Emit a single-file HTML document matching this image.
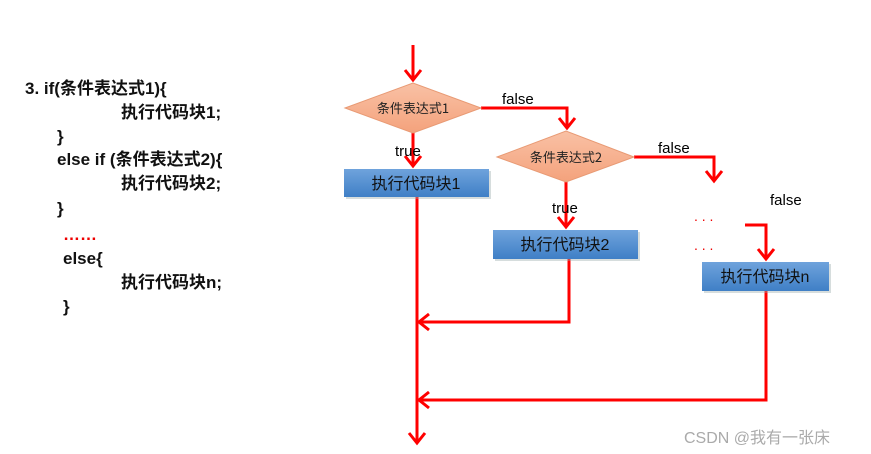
<!DOCTYPE html>
<html><head><meta charset="utf-8"><style>
body{margin:0;background:#fff;}
svg{display:block;}
.c{font-family:"Liberation Sans","Noto Sans CJK SC",sans-serif;font-weight:bold;font-size:17px;fill:#111;}
.l{font-family:"Liberation Sans","Noto Sans CJK SC",sans-serif;font-size:15px;fill:#000;}
.d{font-family:"Noto Sans CJK SC",sans-serif;font-size:13px;fill:#222;}
.b{font-family:"Liberation Sans","Noto Sans CJK SC",sans-serif;font-size:16px;fill:#111;}
</style></head><body>
<svg width="871" height="454" viewBox="0 0 871 454">
<defs>
<linearGradient id="bg" x1="0" y1="0" x2="0" y2="1"><stop offset="0" stop-color="#6fa3dc"/><stop offset="1" stop-color="#3f7fc6"/></linearGradient>
<linearGradient id="dg" x1="0" y1="0" x2="0" y2="1"><stop offset="0" stop-color="#f9c1a5"/><stop offset="1" stop-color="#f4a27c"/></linearGradient>
</defs>
<g>
<text class="c" x="25" y="94">3.  if(条件表达式1){</text>
<text class="c" x="121" y="118">执行代码块1;</text>
<text class="c" x="57" y="142">}</text>
<text class="c" x="57" y="165">else if (条件表达式2){</text>
<text class="c" x="121" y="189">执行代码块2;</text>
<text class="c" x="57" y="214">}</text>
<text x="63" y="240" font-family="Liberation Sans" font-size="17" font-weight="bold" fill="#e00">……</text>
<text class="c" x="63" y="264">else{</text>
<text class="c" x="121" y="288">执行代码块n;</text>
<text class="c" x="63" y="312">}</text>
</g>
<g stroke="#f00" stroke-width="3" fill="none">
<line x1="413" y1="45" x2="413" y2="80"/>
<polyline points="405,70 413,80 421,70"/>
<line x1="413" y1="133" x2="413" y2="166"/>
<polyline points="405,156 413,166 421,156"/>
<line x1="417" y1="197" x2="417" y2="443"/>
<polyline points="409,433 417,443 425,433"/>
<polyline points="481,108 567,108 567,128"/>
<polyline points="559,118 567,128 575,118"/>
<line x1="566" y1="182" x2="566" y2="227"/>
<polyline points="558,217 566,227 574,217"/>
<polyline points="569,259 569,322 419,322"/>
<polyline points="429,314 419,322 429,330"/>
<polyline points="634,157 714,157 714,181"/>
<polyline points="706,171 714,181 722,171"/>
<polyline points="745,225 766,225 766,259"/>
<polyline points="758,249 766,259 774,249"/>
<polyline points="766,291 766,400 419,400"/>
<polyline points="429,392 419,400 429,408"/>
</g>
<g fill="#f00">
<text x="694" y="221" font-family="Liberation Sans" font-size="14" fill="#e00">. . .</text>
<text x="694" y="250" font-family="Liberation Sans" font-size="14" fill="#e00">. . .</text>
</g>
<polygon points="345,108 413,83 481,108 413,133" fill="url(#dg)" stroke="#e89a74"/>
<text class="d" x="413" y="113" text-anchor="middle">条件表达式1</text>
<polygon points="497,157 566,131 634,157 566,182" fill="url(#dg)" stroke="#e89a74"/>
<text class="d" x="566" y="162" text-anchor="middle">条件表达式2</text>
<g>
<rect x="346" y="171" width="145" height="28" fill="#9aa" opacity="0.4"/>
<rect x="344" y="169" width="145" height="28" fill="url(#bg)"/>
<text class="b" x="416" y="189" text-anchor="middle">执行代码块1</text>
<rect x="495" y="232" width="145" height="29" fill="#9aa" opacity="0.4"/>
<rect x="493" y="230" width="145" height="29" fill="url(#bg)"/>
<text class="b" x="565" y="250" text-anchor="middle">执行代码块2</text>
<rect x="704" y="264" width="127" height="29" fill="#9aa" opacity="0.4"/>
<rect x="702" y="262" width="127" height="29" fill="url(#bg)"/>
<text class="b" x="765" y="282" text-anchor="middle">执行代码块n</text>
</g>
<text class="l" x="395" y="156">true</text>
<text class="l" x="552" y="213">true</text>
<text class="l" x="502" y="104">false</text>
<text class="l" x="658" y="153">false</text>
<text class="l" x="770" y="205">false</text>
<text x="684" y="443" font-family="Liberation Sans,Noto Sans CJK SC,sans-serif" font-size="16" fill="#aaa">CSDN @我有一张床</text>
</svg>
</body></html>
